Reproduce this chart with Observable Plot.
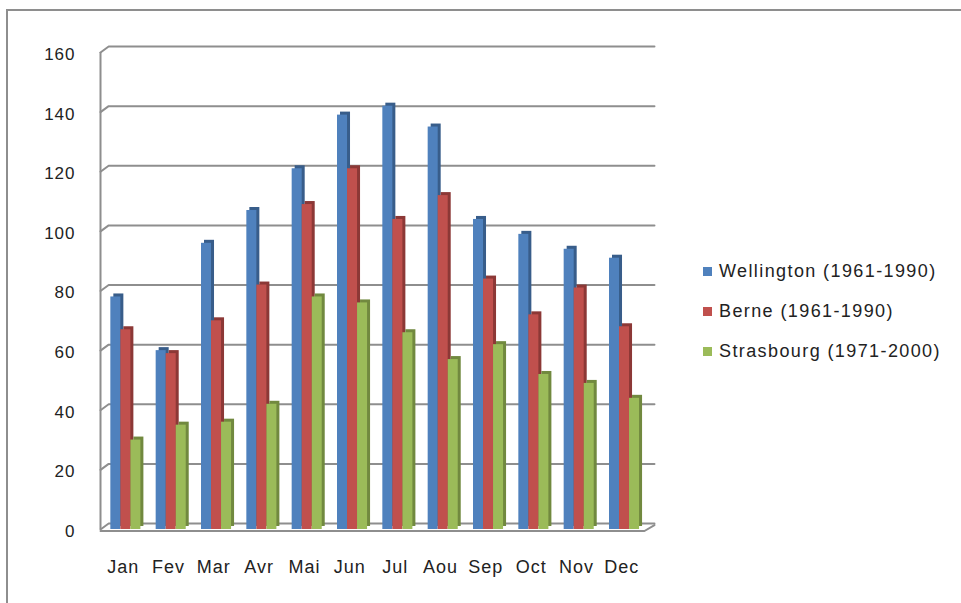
<!DOCTYPE html>
<html>
<head>
<meta charset="utf-8">
<script src="https://cdn.jsdelivr.net/npm/d3@7"></script>
<script src="https://cdn.jsdelivr.net/npm/@observablehq/plot@0.6"></script>
<style>
  html, body { margin: 0; padding: 0; background: #fff; }
  #wrap { position: relative; width: 961px; height: 603px; overflow: hidden; background: #fff;
          font-family: "Liberation Sans", Arial, sans-serif; color: #222; }
  #frame { position: absolute; left: 6px; top: 9px; width: 1000px; height: 700px;
           border: 2px solid #8e8e8e; box-sizing: border-box; }
  #chart svg { position: absolute; left: 0; top: 0; }
  #legend { position: absolute; left: 703px; top: 251px; font-size: 18px; letter-spacing: 1.4px; }
  #legend .row { display: flex; align-items: center; height: 40px; margin-top: 0; }
  #legend .sw { width: 9px; height: 9px; margin-right: 7px; flex: none; }
</style>
</head>
<body>
<div id="wrap">
  <div id="frame"></div>
  <div id="chart"></div>
  <div id="legend"></div>
</div>
<script>
// ---- data ----
const months = ["Jan","Fev","Mar","Avr","Mai","Jun","Jul","Aou","Sep","Oct","Nov","Dec"];
const series = ["Wellington (1961-1990)", "Berne (1961-1990)", "Strasbourg (1971-2000)"];
const wellington = [78, 60, 96, 107, 121, 139, 142, 135, 104, 99, 94, 91];
const berne      = [67, 59, 70,  82, 109, 121, 104, 112,  84, 72, 81, 68];
const strasbourg = [30, 35, 36,  42,  78,  76,  66,  57,  62, 52, 49, 44];
const yTicks = [0, 20, 40, 60, 80, 100, 120, 140, 160];

// ---- styles ----
const colors     = ["#4F81BD", "#C0504D", "#9BBB59"];
const sideColors = ["#385D8A", "#8C3836", "#71893F"];
const gridColor = "#8e8e8e";
const textColor = "#222";

// layout constants (in band / value units) for the 3-D wall offset
const BAR_OFFSET = 0.228;   // gap before first bar inside a month band
const BAR_W = 0.221;        // width of one bar, in month bands
const DEPTH_X = 0.18;       // back wall shift to the right (bands)
const DEPTH_X_R = 0.22;
const DEPTH_Y = 2.0;        // back wall shift upward (value units)

const values = [wellington, berne, strasbourg];
const table = [];
values.forEach((arr, s) => arr.forEach((v, i) => {
  const x1 = i - 0.5 + BAR_OFFSET + s * BAR_W;
  table.push({month: months[i], series: series[s], s, value: v, x1, x2: x1 + BAR_W,
              fill: colors[s], side: sideColors[s]});
}));

const gridData = yTicks.flatMap(v => [
  {v, x: -0.5, y: v},
  {v, x: -0.5 + DEPTH_X, y: v + DEPTH_Y},
  {v, x: 11.5 + DEPTH_X_R, y: v + DEPTH_Y}
]);
const floorData = [
  {x: -0.5, y: 0},
  {x: 11.5, y: 0},
  {x: 11.5 + DEPTH_X_R, y: DEPTH_Y}
];

const plot = Plot.plot({
  width: 961,
  height: 603,
  marginLeft: 100,
  marginRight: 317,
  marginTop: 52,
  marginBottom: 74,
  x: {domain: [-0.5, 11.5], axis: null},
  y: {domain: [0, 160], axis: null},
  style: {fontFamily: "'Liberation Sans', Arial, sans-serif", background: "transparent", color: textColor, letterSpacing: "1px"},
  marks: [
    Plot.line(gridData, {x: "x", y: "y", z: "v", stroke: gridColor, strokeWidth: 2}),
    Plot.ruleX([-0.5], {y1: 0, y2: 160, stroke: gridColor, strokeWidth: 2}),
    Plot.line(floorData, {x: "x", y: "y", stroke: gridColor, strokeWidth: 2, dy: 1.5}),
    Plot.rectY(table, {x1: "x1", x2: "x2", y: "value", fill: "side", dx: 3, dy: -3}),
    Plot.rectY(table, {x1: "x1", x2: "x2", y: "value", fill: "fill"}),
    Plot.text(yTicks, {x: -0.5, y: d => d, text: d => String(d), textAnchor: "end", dx: -25, dy: 2, fontSize: 17, fill: textColor}),
    Plot.text(months, {x: (d, i) => i, y: 0, text: d => d, dy: 38, fontSize: 18, fill: textColor})
  ]
});
document.getElementById("chart").appendChild(plot);

const legend = document.getElementById("legend");
series.forEach((name, s) => {
  const row = document.createElement("div");
  row.className = "row";
  const sw = document.createElement("span");
  sw.className = "sw";
  sw.style.background = colors[s];
  const label = document.createElement("span");
  label.textContent = name;
  row.appendChild(sw);
  row.appendChild(label);
  legend.appendChild(row);
});
</script>
</body>
</html>
